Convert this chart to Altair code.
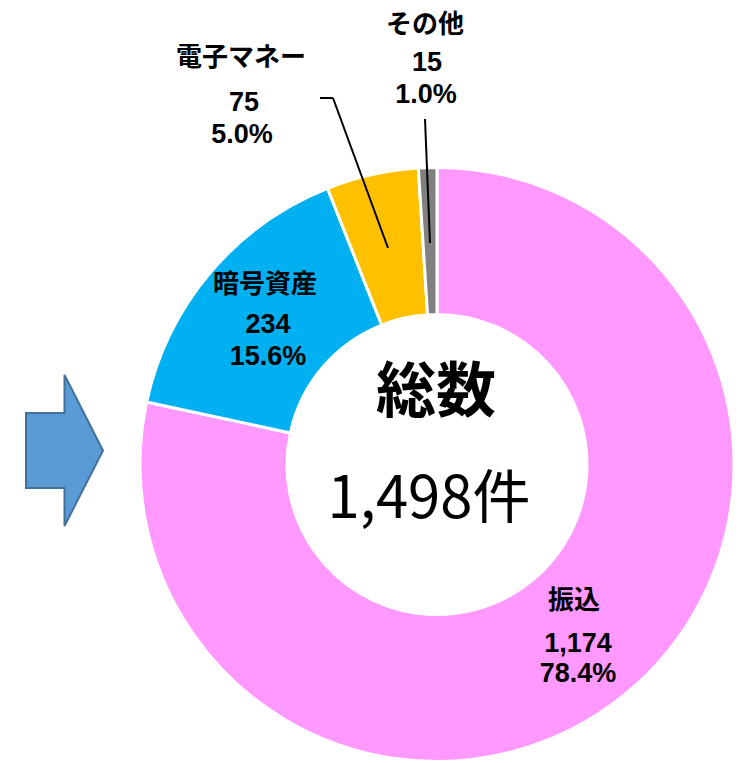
import altair as alt
import pandas as pd

# ---- data ----
categories = ["振込", "暗号資産", "電子マネー", "その他"]
counts = [1174, 234, 75, 15]
percents = ["78.4%", "15.6%", "5.0%", "1.0%"]
colors = ["#FF99FF", "#00B0F0", "#FFC000", "#808080"]
center_title = "総数"
unit = "件"

# ---- layout (page pixel coords) ----
OFF = 8
W, H = 727, 755
cx, cy = 437 - OFF, 464.5 - OFF
R_OUT, R_IN = 297, 150
name_pos = {"振込": (574, 601), "暗号資産": (265, 285), "電子マネー": (241, 58), "その他": (425, 25)}
cnt_pos = {"振込": (578, 644), "暗号資産": (268, 325), "電子マネー": (244, 103), "その他": (427, 63)}
pct_pos = {"振込": (578, 674), "暗号資産": (268, 357), "電子マネー": (242, 135), "その他": (426, 95)}

df = pd.DataFrame({
    "cat": categories,
    "count": counts,
    "pct": percents,
    "idx": list(range(len(categories))),
})
df["cnt"] = [f"{c:,}" for c in counts]
df["nx"] = [name_pos[c][0] - OFF for c in categories]
df["ny"] = [name_pos[c][1] - OFF for c in categories]
df["cx"] = [cnt_pos[c][0] - OFF for c in categories]
df["cy"] = [cnt_pos[c][1] - OFF for c in categories]
df["px"] = [pct_pos[c][0] - OFF for c in categories]
df["py"] = [pct_pos[c][1] - OFF for c in categories]

color_scale = alt.Scale(domain=categories, range=colors)
base = alt.Chart(df)

arcs = base.mark_arc(innerRadius=R_IN, outerRadius=R_OUT, stroke="white", strokeWidth=3).encode(
    theta=alt.Theta("count:Q", stack=True),
    color=alt.Color("cat:N", scale=color_scale, legend=None),
    order=alt.Order("idx:Q"),
    x=alt.value(cx), y=alt.value(cy),
)

names = base.mark_text(font="Noto Sans CJK JP", fontWeight="bold", fontSize=26,
                       align="center", baseline="middle", color="black").encode(
    x=alt.X("nx:Q", scale=None, axis=None),
    y=alt.Y("ny:Q", scale=None, axis=None),
    text="cat:N",
)

num_style = dict(font="Liberation Sans", fontWeight="bold", fontSize=27,
                 align="center", baseline="middle", color="black")
cnts = base.mark_text(**num_style).encode(
    x=alt.X("cx:Q", scale=None, axis=None),
    y=alt.Y("cy:Q", scale=None, axis=None),
    text="cnt:N",
)
pcts = base.mark_text(**num_style).encode(
    x=alt.X("px:Q", scale=None, axis=None),
    y=alt.Y("py:Q", scale=None, axis=None),
    text="pct:N",
)

total_df = pd.DataFrame({"t1": [center_title], "t2": [f"{sum(counts):,}{unit}"]})
t1 = alt.Chart(total_df).mark_text(font="Noto Sans CJK JP", fontWeight="bold", fontSize=60,
                                    align="center", baseline="middle", color="black").encode(
    x=alt.value(436 - OFF), y=alt.value(394 - OFF), text="t1:N")
t2 = alt.Chart(total_df).mark_text(font="Noto Sans CJK JP", fontWeight="normal", fontSize=58,
                                    align="center", baseline="middle", color="black").encode(
    x=alt.value(429 - OFF), y=alt.value(501 - OFF), text="t2:N")

# leader lines
seg_df = pd.DataFrame({"x": [320, 333, 425], "y": [98, 98, 119], "x2": [333, 388, 430], "y2": [98, 248, 243]})
for c in ["x", "y", "x2", "y2"]:
    seg_df[c] = seg_df[c] - OFF
leaders = alt.Chart(seg_df).mark_rule(color="black", strokeWidth=2).encode(
    x=alt.X("x:Q", scale=None, axis=None), y=alt.Y("y:Q", scale=None, axis=None),
    x2="x2:Q", y2="y2:Q")

# arrow
arrow_path = "M -0.51 -0.497 L 0 -0.497 L 0 -1 L 0.51 0 L 0 1 L 0 0.497 L -0.51 0.497 Z"
arrow = alt.Chart(pd.DataFrame({"a": [1]})).mark_point(
    shape=arrow_path, size=151 * 151, filled=True, fill="#5B9BD5", stroke="#41719C",
    strokeWidth=2, opacity=1, fillOpacity=1).encode(
    x=alt.value(64.5 - OFF), y=alt.value(450.5 - OFF))

chart = alt.layer(arcs, leaders, names, cnts, pcts, t1, t2, arrow).properties(
    width=W, height=H, autosize=alt.AutoSizeParams(type="none"), padding=0
).configure_view(strokeWidth=0)

chart.save("out.html", embed_options={"renderer": "svg", "actions": False})
